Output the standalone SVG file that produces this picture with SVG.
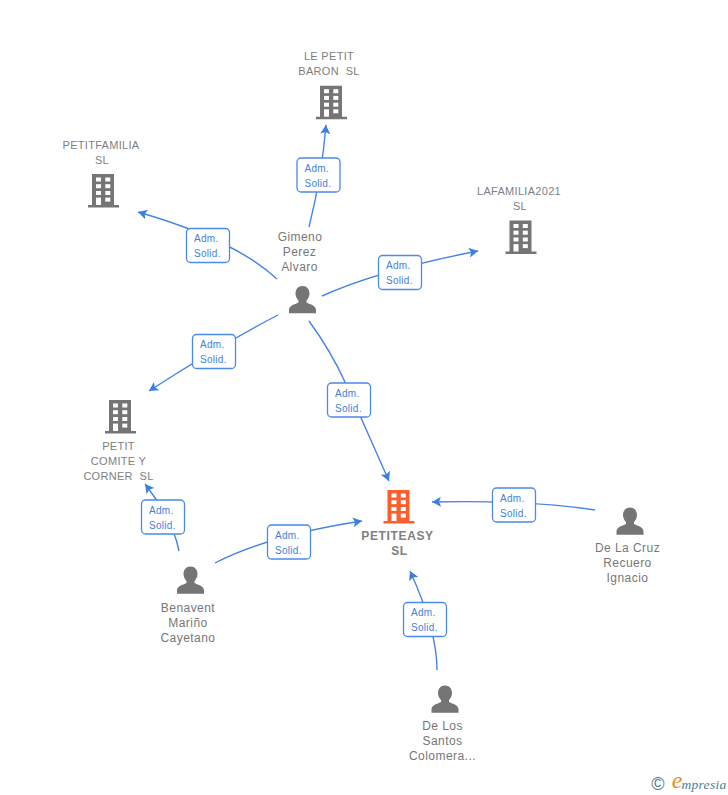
<svg xmlns="http://www.w3.org/2000/svg" xmlns:xlink="http://www.w3.org/1999/xlink" width="728" height="795" viewBox="0 0 728 795">
<style>
text{font-family:"Liberation Sans",Arial,sans-serif;text-anchor:middle}
.co{font-size:11px;fill:#808080;letter-spacing:.3px}
.pe{font-size:12px;fill:#777;letter-spacing:.45px}
.main{font-size:12px;font-weight:bold;fill:#808080;letter-spacing:.65px}
.edge{fill:none;stroke:#4484e4;stroke-width:1.4;marker-end:url(#arr)}
.box{fill:#fff;stroke:#4a8ae8;stroke-width:1.3}
.lb{font-size:10px;fill:#3f80e0;text-anchor:start;letter-spacing:.3px}
.win{fill:#fff}
</style>
<defs>
<marker id="arr" markerUnits="userSpaceOnUse" markerWidth="12" markerHeight="12" refX="9" refY="5.500" orient="auto"><path d="M0 .5L9 5.500L0 10.500L2 5.500Z" fill="#3b7fe0"/></marker>
<g id="bld"><path d="M-11.500 0H10.500V31H15.500V33.500H-15.500V31H-11.500Z"/><g class="win"><rect x="-7.500" y="3.500" width="5" height="4"/><rect x="1.800" y="3.500" width="5" height="4"/><rect x="-7.500" y="10.200" width="5" height="4"/><rect x="1.800" y="10.200" width="5" height="4"/><rect x="-7.500" y="17" width="5" height="4"/><rect x="1.800" y="17" width="5" height="4"/><rect x="-7.500" y="23.600" width="5" height="7.400"/><rect x="1.800" y="23.600" width="5" height="4"/></g></g>
<path id="per" d="M0 0C4.500 0 7 3.500 7 7.500C7 10.500 5.500 13 4 14.500V16.500C8 18.500 13.500 19.500 13.500 24V27.300H-13.500V24C-13.500 19.500 -8 18.500 -4 16.500V14.500C-5.500 13 -7 10.500 -7 7.500C-7 3.500 -4.500 0 0 0Z" fill="#757575"/>
<g id="lab"><rect class="box" x="0" y="0" width="43" height="34" rx="4"/><text class="lb" x="7.500" y="13.500">Adm.</text><text class="lb" x="7.500" y="28.500">Solid.</text></g>
</defs>
<rect width="728" height="795" fill="#fff"/>
<g id="connectors">
<path class="edge" d="M309 227Q322 175 326 125"/>
<path class="edge" d="M277 279Q235 240 138 212"/>
<path class="edge" d="M322 296Q380 270 478 251"/>
<path class="edge" d="M278 315Q220 345 149 391"/>
<path class="edge" d="M309 321Q331 351 346 384L389 481"/>
<path class="edge" d="M595 510Q530 500 432 502"/>
<path class="edge" d="M179 551Q173 520 145 484"/>
<path class="edge" d="M215 563Q270 535 362 521"/>
<path class="edge" d="M437 670Q437 630 410 571"/>
<use href="#lab" x="297" y="158"/>
<use href="#lab" x="186.500" y="228.500"/>
<use href="#lab" x="378.500" y="255.500"/>
<use href="#lab" x="192.500" y="334.500"/>
<use href="#lab" x="327.500" y="383"/>
<use href="#lab" x="492.500" y="488"/>
<use href="#lab" x="141.500" y="500"/>
<use href="#lab" x="267.500" y="525"/>
<use href="#lab" x="403.500" y="602.500"/>
</g>
<g id="n-lepetit"><use href="#bld" x="331.500" y="85.700" fill="#757575"/><text class="co" x="329" y="60">LE PETIT</text><text class="co" x="329" y="75" xml:space="preserve">BARON  SL</text></g>
<g id="n-petitfamilia"><use href="#bld" x="103.500" y="174" fill="#757575"/><text class="co" x="101" y="149">PETITFAMILIA</text><text class="co" x="102" y="164">SL</text></g>
<g id="n-lafamilia"><use href="#bld" x="521" y="220.500" fill="#757575"/><text class="co" x="519" y="195">LAFAMILIA2021</text><text class="co" x="520" y="210">SL</text></g>
<g id="n-comite"><use href="#bld" x="120.500" y="400" fill="#757575"/><text class="co" x="118.500" y="450">PETIT</text><text class="co" x="118.500" y="465">COMITE Y</text><text class="co" x="118.500" y="480" xml:space="preserve">CORNER  SL</text></g>
<g id="n-petiteasy"><use href="#bld" x="399" y="490" fill="#fa5f2e"/><text class="main" x="397.500" y="540">PETITEASY</text><text class="main" x="399.500" y="555">SL</text></g>
<g id="n-gimeno"><use href="#per" x="302.500" y="286"/><text class="pe" x="300" y="241">Gimeno</text><text class="pe" x="299.500" y="256">Perez</text><text class="pe" x="299.500" y="271">Alvaro</text></g>
<g id="n-delacruz"><use href="#per" x="630" y="507.500"/><text class="pe" x="627.500" y="552">De La Cruz</text><text class="pe" x="627.500" y="567">Recuero</text><text class="pe" x="627.500" y="582">Ignacio</text></g>
<g id="n-benavent"><use href="#per" x="190.500" y="566.500"/><text class="pe" x="188" y="612">Benavent</text><text class="pe" x="188" y="627">Mariño</text><text class="pe" x="188" y="642">Cayetano</text></g>
<g id="n-delossantos"><use href="#per" x="445" y="685.500"/><text class="pe" x="442.500" y="730">De Los</text><text class="pe" x="442.500" y="745">Santos</text><text class="pe" x="442.500" y="760">Colomera...</text></g>
<g id="logo"><text x="658" y="790" style="font-size:18px;fill:#3f7f95">©</text><text x="677" y="788" style="font-family:'Liberation Serif',serif;font-size:24px;font-style:italic;fill:#f08a1d">e</text><text x="704" y="789" style="font-family:'Liberation Serif',serif;font-size:13.500px;font-style:italic;fill:#3f7f95;letter-spacing:.3px">mpresia</text></g>
</svg>
